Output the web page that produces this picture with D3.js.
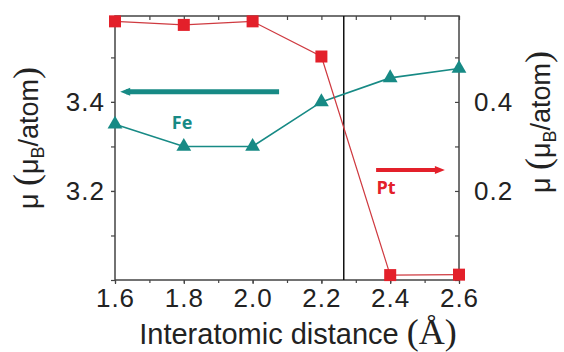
<!DOCTYPE html>
<html>
<head>
<meta charset="utf-8">
<script src="https://cdn.jsdelivr.net/npm/d3@7"></script>
<style>
  body { margin: 0; background: #fff; }
  text { font-family: "Liberation Sans", Arial, sans-serif; }
</style>
</head>
<body>
<div class="vis"></div>
<script>
// data
const distance = [1.6, 1.8, 2.0, 2.2, 2.4, 2.6];
const feMoment = [3.35, 3.30, 3.30, 3.40, 3.454, 3.475];
const ptMoment = [0.581, 0.573, 0.581, 0.502, 0.011, 0.012];
const xTicks = [1.6, 1.8, 2.0, 2.2, 2.4, 2.6];
const leftTicks = [3.2, 3.4];
const rightTicks = [0.2, 0.4];
const boundary = 2.265;

const W = 564, H = 352;
let margin = { top: 16, right: 105, bottom: 72, left: 115 };
const width = W - margin.left - margin.right;
const height = H - margin.top - margin.bottom;

const teal = "#178a85", red = "#e3202a", axisCol = "#444";

let svg = d3.select(".vis").append("svg")
    .attr("width", W).attr("height", H);
let g = svg.append("g")
    .attr("transform", "translate(" + margin.left + "," + margin.top + ")");

let x = d3.scaleLinear().domain([1.6, 2.6]).range([0, width]);
let yL = d3.scaleLinear().domain([3.0, 3.593]).range([height, 0]);
let yR = d3.scaleLinear().domain([0.0, 0.593]).range([height, 0]);

const minorX = d3.range(16, 27).map(d => d / 10);
const minorY = d3.range(30, 36).map(d => d / 10);
const minorR = d3.range(0, 6).map(d => d / 10);

// axes
const tickText = sel => sel.selectAll("text")
    .style("font-size", "26px").style("letter-spacing", "1px").attr("fill", "#222");
const clean = sel => sel.select(".domain").remove();

g.append("g").attr("transform", "translate(0," + height + ")")
    .call(d3.axisBottom(x).tickValues(minorX).tickSize(3).tickFormat(""))
    .call(clean);
g.append("g").attr("transform", "translate(0," + height + ")")
    .call(d3.axisBottom(x).tickValues(xTicks).tickSize(4).tickPadding(5).tickFormat(d3.format(".1f")))
    .call(clean).call(tickText);
g.append("g")
    .call(d3.axisBottom(x).tickValues(minorX).tickSize(4).tickFormat(""))
    .call(clean);
g.append("g")
    .call(d3.axisLeft(yL).tickValues(minorY).tickSize(4).tickFormat(""))
    .call(clean);
g.append("g")
    .call(d3.axisLeft(yL).tickValues(leftTicks).tickSize(4).tickPadding(6).tickFormat(d3.format(".1f")))
    .call(clean).call(tickText);
g.append("g").attr("transform", "translate(" + width + ",0)")
    .call(d3.axisLeft(yR).tickValues(minorR).tickSize(4).tickFormat(""))
    .call(clean);
g.append("g").attr("transform", "translate(" + width + ",0)")
    .call(d3.axisRight(yR).tickValues(rightTicks).tickSize(0).tickPadding(15).tickFormat(d3.format(".1f")))
    .call(clean).call(tickText);
g.selectAll(".tick line").attr("stroke", axisCol).attr("stroke-width", 1.2);

// frame
g.append("rect").attr("width", width).attr("height", height)
    .attr("fill", "none").attr("stroke", axisCol).attr("stroke-width", 1.5);

// boundary line
g.append("line")
    .attr("x1", x(boundary)).attr("x2", x(boundary))
    .attr("y1", 0).attr("y2", height)
    .attr("stroke", "#111").attr("stroke-width", 1.5);

// Fe and Pt series
const fe = distance.map((d, i) => ({ x: d, y: feMoment[i] }));
const pt = distance.map((d, i) => ({ x: d, y: ptMoment[i] }));

g.append("path").datum(fe)
    .attr("fill", "none").attr("stroke", teal).attr("stroke-width", 1.6)
    .attr("d", d3.line().x(d => x(d.x)).y(d => yL(d.y)));
g.append("path").datum(pt)
    .attr("fill", "none").attr("stroke", "#cf3a40").attr("stroke-width", 1.2)
    .attr("d", d3.line().x(d => x(d.x)).y(d => yR(d.y)));

g.append("g").selectAll("path").data(fe).enter().append("path")
    .attr("transform", d => "translate(" + x(d.x) + "," + yL(d.y) + ")")
    .attr("d", d3.symbol().type(d3.symbolTriangle).size(95))
    .attr("fill", teal);
g.append("g").selectAll("rect").data(pt).enter().append("rect")
    .attr("x", d => x(d.x) - 6).attr("y", d => yR(d.y) - 6)
    .attr("width", 12).attr("height", 12)
    .attr("fill", red);

// arrows + labels
const arrow = (x1, x2, yy, col, sw) => {
    const dir = Math.sign(x2 - x1);
    g.append("line").attr("x1", x1).attr("x2", x2 - dir * 6)
        .attr("y1", yy).attr("y2", yy)
        .attr("stroke", col).attr("stroke-width", sw);
    g.append("path")
        .attr("d", "M" + x2 + "," + yy + "L" + (x2 - dir * 10) + "," + (yy - 4) + "L" + (x2 - dir * 10) + "," + (yy + 4) + "Z")
        .attr("fill", col);
};
arrow(x(2.077), x(1.615), yL(3.423), teal, 5);
arrow(x(2.359), x(2.559), yR(0.247), red, 4);

const labelFont = "'Open Sans', 'DejaVu Sans', sans-serif";
g.append("text").attr("x", x(1.765)).attr("y", yL(3.34))
    .attr("fill", teal).style("font-family", labelFont)
    .style("font-weight", "bold").style("font-size", "18px").text("Fe");
g.append("text").attr("x", x(2.36)).attr("y", yR(0.193))
    .attr("fill", red).style("font-family", labelFont)
    .style("font-weight", "bold").style("font-size", "18px").text("Pt");

// axis titles
const serif = "'Liberation Serif', 'Times New Roman', serif";
const yTitle = (cx, cy) => {
    const t = svg.append("text")
        .attr("transform", "translate(" + cx + "," + cy + ") rotate(-90)")
        .attr("text-anchor", "middle").attr("fill", "#222").style("font-size", "27px");
    t.append("tspan").text("μ ");
    t.append("tspan").style("font-family", serif).style("font-size", "36px").text("(");
    t.append("tspan").text("μ");
    t.append("tspan").attr("dy", 6).style("font-size", "18px").text("B");
    t.append("tspan").attr("dy", -6).text("/atom");
    t.append("tspan").style("font-family", serif).style("font-size", "36px").text(")");
};
yTitle(38, 138);
yTitle(550, 122);

const xt = svg.append("text").attr("x", 298).attr("y", 344)
    .attr("text-anchor", "middle").attr("fill", "#222").style("font-size", "29px");
xt.append("tspan").text("Interatomic distance ");
xt.append("tspan").style("font-family", serif).style("font-size", "36px").text("(Å)");
</script>
</body>
</html>
